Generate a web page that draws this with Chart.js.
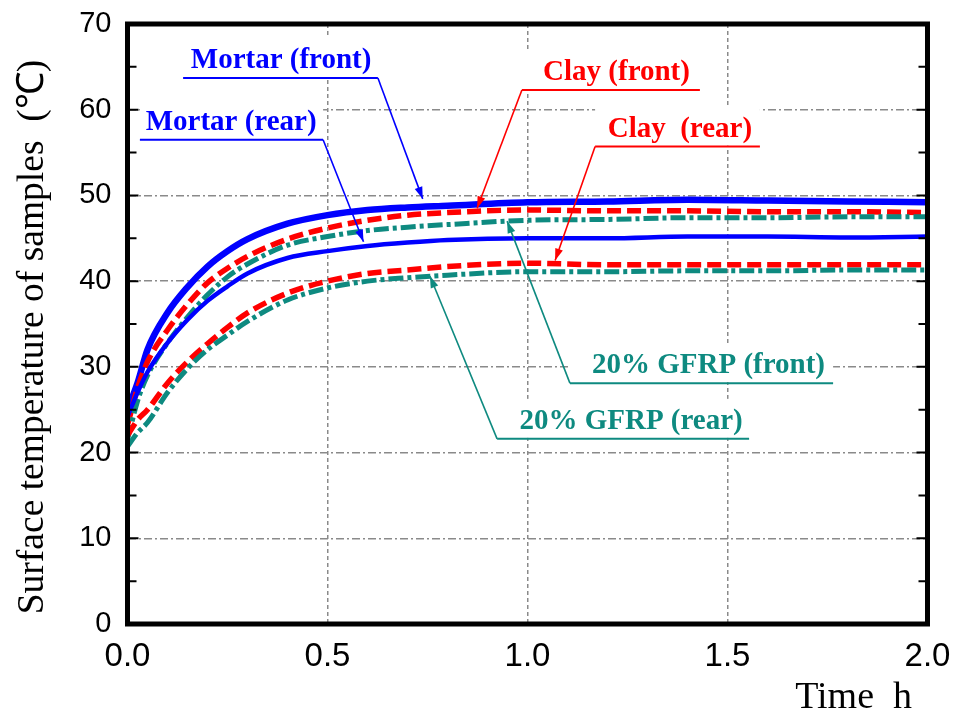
<!DOCTYPE html>
<html>
<head>
<meta charset="utf-8">
<script src="https://cdn.jsdelivr.net/npm/chart.js"></script>
<style>
  html, body { margin: 0; padding: 0; background: #fff; }
  canvas { display: block; }
</style>
</head>
<body>
<canvas id="chart" width="954" height="713"></canvas>
<script>
// time in hours, temperatures in degrees C
const times = [0, 0.025, 0.05, 0.1, 0.15, 0.2, 0.25, 0.3, 0.4, 0.5, 0.6, 0.7, 0.8, 1.0, 1.2, 1.4, 1.6, 1.8, 2.0];
const mortarFront = [25.0, 28.1, 32.0, 36.3, 39.3, 41.7, 43.5, 44.9, 46.7, 47.7, 48.3, 48.6, 48.8, 49.2, 49.3, 49.5, 49.4, 49.3, 49.2];
const mortarRear  = [24.2, 27.0, 29.4, 32.8, 35.5, 37.7, 39.4, 40.9, 42.7, 43.5, 44.1, 44.5, 44.8, 45.0, 45.0, 45.2, 45.2, 45.1, 45.2];
const clayFront   = [23.2, 27.5, 30.6, 34.3, 37.3, 39.8, 41.5, 42.9, 44.9, 46.2, 47.1, 47.7, 48.0, 48.3, 48.2, 48.2, 48.1, 48.1, 48.0];
const clayRear    = [22.0, 23.8, 25.0, 28.1, 30.6, 32.7, 34.6, 36.3, 38.6, 40.0, 40.9, 41.3, 41.7, 42.1, 41.9, 41.9, 41.9, 41.9, 41.9];
const gfrpFront   = [21.5, 26.0, 29.0, 32.8, 35.8, 38.4, 40.5, 42.0, 44.2, 45.2, 45.9, 46.3, 46.6, 47.1, 47.2, 47.4, 47.4, 47.5, 47.5];
const gfrpRear    = [20.7, 22.3, 23.5, 27.0, 29.8, 32.0, 33.7, 35.3, 37.8, 39.2, 40.0, 40.4, 40.7, 41.1, 41.1, 41.2, 41.2, 41.3, 41.3];

const xTicks = [0, 0.5, 1.0, 1.5, 2.0];
const minorY = [5, 15, 25, 35, 45, 55, 65];
const majorY = [10, 20, 30, 40, 50, 60];

const BLUE = '#0000ff';
const RED = '#ff0000';
const TEAL = '#0e8a80';

// callouts: text, underline (data coords) and arrow tip
const callouts = [
  { text: 'Mortar (front)', color: BLUE, tx: 0.384, u0: 0.139, u1: 0.626, uv: 63.7, side: 'end', ax: 0.738, ay: 49.6 },
  { text: 'Mortar (rear)', color: BLUE, tx: 0.259, u0: 0.031, u1: 0.489, uv: 56.5, side: 'end', ax: 0.59, ay: 44.6 },
  { text: 'Clay (front)', color: RED, tx: 1.2225, u0: 0.986, u1: 1.431, uv: 62.3, side: 'start', ax: 0.874, ay: 48.5 },
  { text: 'Clay  (rear)', color: RED, tx: 1.381, u0: 1.169, u1: 1.581, uv: 55.7, side: 'start', ax: 1.069, ay: 42.4 },
  { text: '20% GFRP (front)', color: TEAL, tx: 1.4525, u0: 1.106, u1: 1.764, uv: 28.1, side: 'start', ax: 0.949, ay: 47.0 },
  { text: '20% GFRP (rear)', color: TEAL, tx: 1.259, u0: 0.924, u1: 1.554, uv: 21.6, side: 'start', ax: 0.756, ay: 40.6 }
];

function pts(vals) {
  return times.map((t, i) => ({ x: t, y: vals[i] }));
}

function serie(label, vals, color, width, dash) {
  return {
    label: label,
    data: pts(vals),
    borderColor: color,
    backgroundColor: color,
    borderWidth: width,
    borderDash: dash,
    pointRadius: 0,
    cubicInterpolationMode: 'monotone',
    fill: false
  };
}

// callouts, frame, inner ticks and axis titles
const decorPlugin = {
  id: 'decor',
  afterDatasetsDraw(chart) {
    const ctx = chart.ctx;
    const xs = chart.scales.x, ys = chart.scales.y;
    ctx.save();
    callouts.forEach(function(c) {
      const x0 = xs.getPixelForValue(c.u0);
      const x1 = xs.getPixelForValue(c.u1);
      const uy = ys.getPixelForValue(c.uv);
      ctx.fillStyle = '#fff';
      ctx.fillRect(x0, uy - 40, x1 - x0, 39);
      ctx.font = 'bold 29px "Liberation Serif", "Times New Roman", serif';
      ctx.fillStyle = c.color;
      ctx.textAlign = 'center';
      ctx.textBaseline = 'alphabetic';
      ctx.fillText(c.text, xs.getPixelForValue(c.tx), uy - 10);

      ctx.strokeStyle = c.color;
      ctx.lineWidth = 2;
      ctx.beginPath();
      ctx.moveTo(x0, uy);
      ctx.lineTo(x1, uy);
      ctx.stroke();

      const sx = c.side === 'end' ? x1 : x0;
      const tx = xs.getPixelForValue(c.ax);
      const ty = ys.getPixelForValue(c.ay);
      ctx.lineWidth = 1.6;
      ctx.beginPath();
      ctx.moveTo(sx, uy);
      ctx.lineTo(tx, ty);
      ctx.stroke();
      const ang = Math.atan2(ty - uy, tx - sx);
      ctx.beginPath();
      ctx.moveTo(tx, ty);
      ctx.lineTo(tx - 12 * Math.cos(ang) + 4 * Math.sin(ang), ty - 12 * Math.sin(ang) - 4 * Math.cos(ang));
      ctx.lineTo(tx - 12 * Math.cos(ang) - 4 * Math.sin(ang), ty - 12 * Math.sin(ang) + 4 * Math.cos(ang));
      ctx.closePath();
      ctx.fill();
    });
    ctx.restore();
  },
  afterDraw(chart) {
    const ctx = chart.ctx;
    const a = chart.chartArea;
    const ys = chart.scales.y;
    ctx.save();
    ctx.strokeStyle = '#000';
    ctx.lineWidth = 2;
    minorY.concat(majorY).forEach(function(v) {
      const py = ys.getPixelForValue(v);
      const len = majorY.indexOf(v) >= 0 ? 11 : 9;
      ctx.beginPath();
      ctx.moveTo(a.left, py); ctx.lineTo(a.left + len, py);
      ctx.moveTo(a.right, py); ctx.lineTo(a.right - len, py);
      ctx.stroke();
    });
    ctx.lineWidth = 5;
    ctx.strokeRect(a.left, a.top, a.right - a.left, a.bottom - a.top);

    ctx.fillStyle = '#000';
    ctx.font = '38px "Liberation Serif", "Times New Roman", serif';
    ctx.textAlign = 'right';
    ctx.textBaseline = 'alphabetic';
    ctx.fillText('Time  h', 912, 708);

    ctx.translate(43, (a.top + a.bottom) / 2 + 13);
    ctx.rotate(-Math.PI / 2);
    ctx.textAlign = 'center';
    ctx.font = '37.5px "Liberation Serif", "Times New Roman", serif';
    ctx.fillText('Surface temperature of samples  (\u2103)', 0, 0);
    ctx.restore();
  }
};

new Chart(document.getElementById('chart'), {
  type: 'line',
  data: {
    datasets: [
      serie('20% GFRP (rear)', gfrpRear, TEAL, 5, [15, 4, 4, 4]),
      serie('Clay (rear)', clayRear, RED, 5.5, [14, 6]),
      serie('Mortar (rear)', mortarRear, BLUE, 4.5, []),
      serie('20% GFRP (front)', gfrpFront, TEAL, 5, [15, 4, 4, 4]),
      serie('Clay (front)', clayFront, RED, 5.5, [14, 6]),
      serie('Mortar (front)', mortarFront, BLUE, 6.5, [])
    ]
  },
  options: {
    responsive: false,
    animation: false,
    layout: { padding: { top: 24, right: 26.5, left: 0, bottom: 0 } },
    plugins: {
      legend: { display: false },
      tooltip: { enabled: false }
    },
    scales: {
      x: {
        type: 'linear',
        min: 0,
        max: 2,
        afterBuildTicks: function(scale) {
          scale.ticks = xTicks.map(v => ({ value: v }));
        },
        afterFit: function(scale) {
          scale.height = 89;
          scale.paddingLeft = 0;
          scale.paddingRight = 0;
        },
        ticks: {
          padding: 13,
          color: '#000',
          font: { family: '"Liberation Sans Narrow", "Liberation Sans", Arial, sans-serif', size: 33 },
          callback: v => v.toFixed(1),
          maxRotation: 0
        },
        grid: { color: '#8a8a8a', lineWidth: 1.5, drawTicks: false },
        border: { display: false, dash: [4, 3] }
      },
      y: {
        min: 0,
        max: 70,
        afterFit: function(scale) {
          scale.width = 127.5;
          scale.paddingTop = 0;
          scale.paddingBottom = 0;
        },
        ticks: {
          stepSize: 10,
          padding: 16,
          color: '#000',
          font: { family: '"Liberation Sans", Arial, sans-serif', size: 29 }
        },
        grid: { color: '#8a8a8a', lineWidth: 1.5, drawTicks: false },
        border: { display: false, dash: [8, 3, 2, 3] }
      }
    }
  },
  plugins: [decorPlugin]
});
</script>
</body>
</html>
